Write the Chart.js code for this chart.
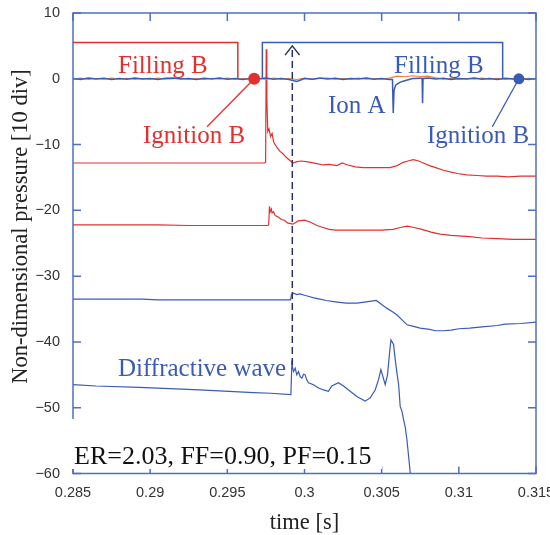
<!DOCTYPE html>
<html>
<head>
<meta charset="utf-8">
<title>Non-dimensional pressure</title>
<script src="https://cdn.jsdelivr.net/npm/chart.js"></script>
<style>
  body { margin: 0; background: #fff; }
  canvas { display: block; }
</style>
</head>
<body>
<canvas id="myChart" width="550" height="535"></canvas>
<script>
// axis ticks: time [s] and pressure [10 div]
var xTicks = [0.285, 0.29, 0.295, 0.3, 0.305, 0.31, 0.315];
var yTicks = [10, 0, -10, -20, -30, -40, -50, -60];

// zero-level signals, [time, pressure]
var blueZero = [
  [0.285, 0.05], [0.2855, -0.12], [0.286, 0.1], [0.2865, -0.05], [0.287, 0.08], [0.2875, -0.12],
  [0.288, 0.05], [0.2885, -0.08], [0.289, 0.1], [0.2895, -0.05], [0.29, 0.05], [0.2905, -0.1],
  [0.291, 0.08], [0.2915, 0.12], [0.292, -0.05], [0.2925, 0.05], [0.293, -0.1], [0.2935, 0.08],
  [0.294, -0.03], [0.2945, 0.1], [0.295, -0.08], [0.2955, 0.05], [0.296, -0.1], [0.2965, 0.05],
  [0.297, -0.05], [0.2975, 0.1], [0.298, -0.08], [0.2985, 0.05], [0.299, -0.1], [0.2995, -0.4],
  [0.3, 0.05], [0.3005, -0.08], [0.301, 0.1], [0.3015, -0.05], [0.302, 0.08], [0.3025, -0.1],
  [0.303, 0.05], [0.3035, -0.05], [0.304, 0.1], [0.3045, -0.08], [0.305, 0.05], [0.3055, -0.1],
  [0.3057, -0.1], [0.30575, -5.2], [0.3058, -1.8], [0.3059, -1.0], [0.306, -0.8], [0.3062, -0.5],
  [0.3065, -0.3], [0.307, 0.05], [0.3075, 0.1], [0.30762, 0.05], [0.30765, -3.7], [0.30768, 0.05],
  [0.308, 0.1], [0.3085, -0.05], [0.309, 0.08], [0.3095, -0.1], [0.31, 0.05], [0.3105, -0.05],
  [0.311, 0.1], [0.3115, -0.08], [0.312, 0.05], [0.3125, -0.1], [0.313, 0.08], [0.3135, -0.05],
  [0.314, 0.05], [0.3145, -0.1], [0.315, 0.05]
];
var orangeZero = [
  [0.285, -0.05], [0.2855, 0.1], [0.286, -0.1], [0.2865, 0.05], [0.287, -0.08], [0.2875, 0.1],
  [0.288, -0.05], [0.2885, 0.08], [0.289, -0.1], [0.2895, 0.05], [0.29, -0.05], [0.2905, 0.1],
  [0.291, -0.08], [0.2915, 0.03], [0.292, 0.1], [0.2925, -0.08], [0.293, 0.05], [0.2935, -0.1],
  [0.294, 0.08], [0.2945, -0.05], [0.295, 0.1], [0.2955, -0.08], [0.296, 0.05], [0.2965, -0.05],
  [0.297, 0.08], [0.2975, -0.1], [0.298, 0.12], [0.2985, -0.05], [0.299, 0.05], [0.2995, -0.1],
  [0.3, 0.1], [0.3005, -0.05], [0.301, 0.05], [0.3015, 0.12], [0.302, -0.08], [0.3025, 0.05],
  [0.303, -0.05], [0.3035, 0.1], [0.304, -0.08], [0.3045, 0.05], [0.305, -0.05], [0.3055, 0.1],
  [0.306, 0.4], [0.3065, 0.3], [0.307, 0.45], [0.3075, 0.35], [0.308, 0.4], [0.3085, 0.15],
  [0.309, -0.05], [0.3095, 0.08], [0.31, -0.08], [0.3105, 0.05], [0.311, -0.05], [0.3115, 0.1],
  [0.312, -0.05], [0.3125, 0.08], [0.313, -0.1], [0.3135, 0.05], [0.314, -0.05], [0.3145, 0.08],
  [0.315, -0.05]
];

// Filling B gates and ignition points
var fillRed = [[0.285, 5.5], [0.29568, 5.5], [0.29568, 0]];
var fillBlue = [[0.29727, 0], [0.29727, 5.5], [0.31284, 5.5], [0.31284, 0]];
var ignitionRed = [[0.29674, 0]];
var ignitionBlue = [[0.31389, 0]];
var leaderRed = [[0.29674, 0], [0.29369, -7.3]];
var leaderBlue = [[0.31389, 0], [0.31217, -7.3]];

// shock arrival arrow
var arrowLine = [[0.29921, -43.5], [0.29921, 5.0]];
var arrowHead = [[0.29874, 3.6], [0.29921, 5.0], [0.29968, 3.6]];

// pressure traces
var red1 = [
  [0.285, -12.8], [0.2974, -12.8], [0.29748, -12.7], [0.29752, 4.5], [0.29756, -3.0], [0.29762, -8.0],
  [0.2977, -7.6], [0.2978, -8.8], [0.2979, -8.3], [0.298, -9.6], [0.2982, -10.4], [0.2984, -11.0],
  [0.2986, -11.4], [0.2988, -11.9], [0.299, -12.3], [0.29925, -12.8], [0.2995, -12.6], [0.2998, -12.5],
  [0.3001, -12.6], [0.3004, -12.7], [0.3008, -12.9], [0.3012, -13.1], [0.3016, -13.0], [0.3021, -13.2],
  [0.30244, -12.8], [0.3028, -13.1], [0.3033, -13.4], [0.3038, -13.5], [0.3043, -13.5], [0.30555, -13.5],
  [0.306, -13.2], [0.3064, -12.7], [0.3067, -12.5], [0.30705, -12.3], [0.3074, -12.5], [0.3077, -12.8],
  [0.3081, -13.2], [0.3085, -13.5], [0.309, -13.9], [0.3095, -14.2], [0.3099, -14.4], [0.3105, -14.6],
  [0.3112, -14.7], [0.3118, -14.8], [0.3125, -14.8], [0.3132, -14.9], [0.314, -14.8], [0.315, -14.8]
];
var red2 = [
  [0.285, -22.2], [0.2905, -22.2], [0.2925, -22.3], [0.2976, -22.3], [0.29768, -22.2], [0.29773, -19.4],
  [0.29778, -20.2], [0.29785, -19.8], [0.2979, -20.4], [0.298, -20.2], [0.2981, -20.8], [0.2983, -21.0],
  [0.2985, -21.4], [0.2987, -21.5], [0.2989, -21.9], [0.29925, -22.1], [0.2996, -21.6], [0.3, -21.5],
  [0.3004, -21.8], [0.3008, -22.3], [0.3012, -22.6], [0.3016, -22.9], [0.302, -23.0], [0.303, -23.0],
  [0.304, -23.0], [0.305, -23.0], [0.30575, -22.9], [0.3062, -22.6], [0.30665, -22.4], [0.3071, -22.6],
  [0.3076, -22.9], [0.3082, -23.3], [0.3088, -23.6], [0.3095, -23.8], [0.3107, -24.0], [0.3115, -24.2],
  [0.3125, -24.3], [0.3135, -24.4], [0.315, -24.4]
];
var blue3 = [
  [0.285, -33.5], [0.2895, -33.5], [0.2905, -33.6], [0.2991, -33.6], [0.29915, -32.8], [0.2993, -32.6],
  [0.2995, -32.8], [0.2997, -32.7], [0.3, -32.9], [0.3003, -33.1], [0.3006, -33.3], [0.301, -33.5],
  [0.3014, -33.7], [0.302, -33.9], [0.3027, -34.1], [0.3034, -34.1], [0.304, -33.9], [0.30465, -33.7],
  [0.305, -34.3], [0.30535, -34.9], [0.3057, -35.4], [0.306, -35.9], [0.3063, -36.6], [0.30665, -37.4],
  [0.307, -37.6], [0.3075, -37.9], [0.3081, -38.1], [0.3085, -38.3], [0.309, -38.3], [0.3095, -38.2],
  [0.31, -38.0], [0.3107, -37.9], [0.3115, -37.7], [0.3125, -37.5], [0.313, -37.3], [0.314, -37.2],
  [0.315, -37.0]
];
var blue4 = [
  [0.285, -46.5], [0.2865, -46.7], [0.2893, -46.9], [0.2932, -47.3], [0.2967, -47.7], [0.2978, -47.8],
  [0.29912, -48.0], [0.29918, -43.3], [0.29929, -44.5], [0.2994, -44.0], [0.2995, -45.0], [0.29961, -44.5],
  [0.29972, -45.3], [0.29983, -45.5], [0.29994, -44.9], [0.30004, -45.0], [0.30015, -45.8], [0.30026, -46.2],
  [0.30058, -46.5], [0.30091, -47.0], [0.30123, -47.3], [0.30155, -47.5], [0.30177, -46.7], [0.3022, -46.2],
  [0.30253, -46.7], [0.30296, -47.5], [0.30339, -48.3], [0.30393, -49.0], [0.30426, -48.5], [0.30458, -47.3],
  [0.3048, -45.7], [0.30495, -44.2], [0.30512, -45.6], [0.30523, -46.5], [0.30538, -45.0], [0.30551, -41.7],
  [0.3056, -39.7], [0.30577, -40.4], [0.30588, -42.7], [0.30599, -44.7], [0.3061, -46.5], [0.3062, -49.8],
  [0.30632, -50.6], [0.30642, -51.8], [0.30653, -53.0], [0.30664, -54.9], [0.30675, -57.5], [0.30685, -59.9],
  [0.3069, -61]
];

var RED = '#e3302f';
var BLUE = '#3a5bb5';
var ORANGE = '#f07f35';
var AXIS = '#4f6fc4';
var SERIF = '"Liberation Serif", "Times New Roman", serif';
var SANS = '"Liberation Sans", Arial, sans-serif';

function pts(list) {
  return list.map(function (p) { return { x: p[0], y: p[1] }; });
}

function trace(list, color, width, extra) {
  var ds = { data: pts(list), borderColor: color, backgroundColor: color, borderWidth: width, showLine: true, pointRadius: 0 };
  for (var k in extra) ds[k] = extra[k];
  return ds;
}

// label texts drawn over the plot (pixel positions, baseline left)
var notes = [
  { text: 'Filling B', x: 118, y: 72.7, color: RED, size: 25 },
  { text: 'Ignition B', x: 143, y: 142.7, color: RED, size: 25 },
  { text: 'Filling B', x: 394, y: 72.7, color: BLUE, size: 25 },
  { text: 'Ion A', x: 328, y: 113, color: BLUE, size: 25 },
  { text: 'Ignition B', x: 427, y: 143, color: BLUE, size: 25 },
  { text: 'Diffractive wave', x: 118, y: 375.7, color: BLUE, size: 25 }
];

var frame = {
  id: 'frame',
  afterDatasetsDraw: function (chart) {
    var ctx = chart.ctx, a = chart.chartArea;
    var xs = chart.scales.x, ys = chart.scales.y;
    ctx.save();
    ctx.strokeStyle = AXIS;
    ctx.lineWidth = 1.5;
    ctx.strokeRect(a.left, a.top, a.right - a.left, a.bottom - a.top);
    ctx.beginPath();
    xTicks.forEach(function (v) {
      var px = xs.getPixelForValue(v);
      ctx.moveTo(px, a.top); ctx.lineTo(px, a.top + 8);
      ctx.moveTo(px, a.bottom); ctx.lineTo(px, a.bottom - 7);
    });
    yTicks.forEach(function (v) {
      var py = ys.getPixelForValue(v);
      ctx.moveTo(a.left, py); ctx.lineTo(a.left + 8, py);
      ctx.moveTo(a.right, py); ctx.lineTo(a.right - 8, py);
    });
    ctx.stroke();

    // run conditions with a white backing
    ctx.fillStyle = '#fff';
    ctx.fillRect(66, 419, 316, 50);
    ctx.fillStyle = '#111';
    ctx.font = '26px ' + SERIF;
    ctx.textBaseline = 'alphabetic';
    ctx.textAlign = 'left';
    ctx.fillText('ER=2.03, FF=0.90, PF=0.15', 74, 464);

    notes.forEach(function (n) {
      ctx.fillStyle = n.color;
      ctx.font = n.size + 'px ' + SERIF;
      ctx.fillText(n.text, n.x, n.y);
    });

    // axis titles
    ctx.fillStyle = '#222';
    ctx.font = '22.5px ' + SERIF;
    ctx.textAlign = 'center';
    ctx.fillText('time [s]', (a.left + a.right) / 2, 529);
    ctx.translate(27, 226.5);
    ctx.rotate(-Math.PI / 2);
    ctx.fillText('Non-dimensional pressure [10 div]', 0, 0);
    ctx.restore();
  }
};

var chartArea = document.getElementById('myChart').getContext('2d');

var myChart = new Chart(chartArea, {
  type: 'scatter',
  data: {
    datasets: [
      trace(ignitionRed, RED, 0, { pointRadius: 6, pointBorderWidth: 0, showLine: false }),
      trace(ignitionBlue, BLUE, 0, { pointRadius: 5.5, pointBorderWidth: 0, showLine: false }),
      trace(leaderRed, RED, 1.3),
      trace(leaderBlue, BLUE, 1.3),
      trace(arrowHead, '#2b3060', 1.5),
      trace(arrowLine, '#2b3060', 1.5, { borderDash: [7, 4] }),
      trace(blueZero, BLUE, 1.5),
      trace(orangeZero, ORANGE, 1.1),
      trace(fillRed, RED, 1.5),
      trace(fillBlue, BLUE, 1.5),
      trace(red1, RED, 1.2),
      trace(red2, RED, 1.2),
      trace(blue3, BLUE, 1.2),
      trace(blue4, BLUE, 1.2)
    ]
  },
  options: {
    responsive: false,
    animation: false,
    devicePixelRatio: 1,
    layout: { padding: { top: 13, right: 14, left: 0, bottom: 0 } },
    elements: { line: { tension: 0 } },
    plugins: {
      legend: { display: false },
      tooltip: { enabled: false }
    },
    scales: {
      x: {
        type: 'linear',
        min: 0.285,
        max: 0.315,
        grid: { display: false, drawTicks: false },
        border: { display: false },
        afterBuildTicks: function (scale) {
          scale.ticks = xTicks.map(function (v) { return { value: v }; });
        },
        afterFit: function (scale) {
          scale.height = 61.5;
          scale.paddingLeft = 0;
          scale.paddingRight = 0;
        },
        ticks: {
          autoSkip: false,
          maxRotation: 0,
          padding: 11,
          color: '#333',
          font: { family: SANS, size: 14.5 },
          callback: function (v) { return String(Number(v.toFixed(3))); }
        }
      },
      y: {
        type: 'linear',
        min: -60,
        max: 10,
        grid: { display: false, drawTicks: false },
        border: { display: false },
        afterBuildTicks: function (scale) {
          scale.ticks = yTicks.map(function (v) { return { value: v }; });
        },
        afterFit: function (scale) {
          scale.width = 73;
          scale.paddingTop = 0;
          scale.paddingBottom = 0;
        },
        ticks: {
          padding: 13,
          color: '#333',
          font: { family: SANS, size: 14.5 },
          callback: function (v) { return v < 0 ? '\u2212' + (-v) : String(v); }
        }
      }
    }
  },
  plugins: [frame]
});
</script>
</body>
</html>
